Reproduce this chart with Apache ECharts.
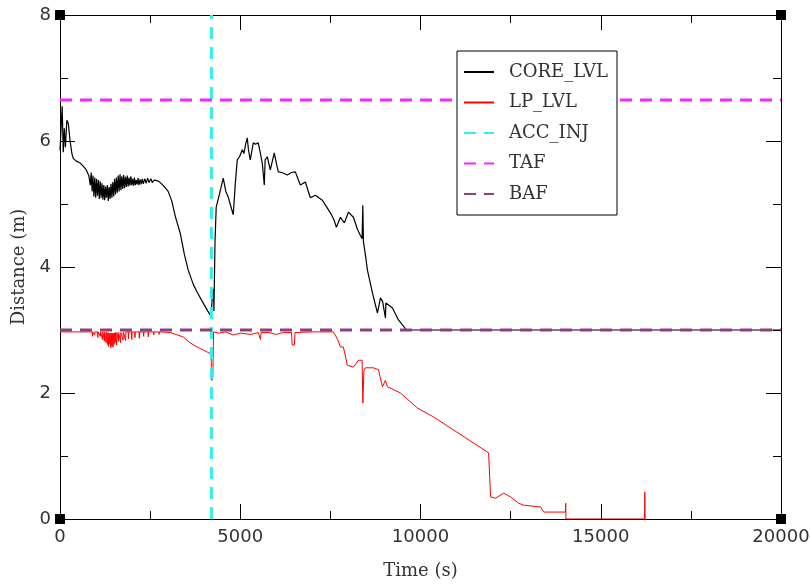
<!DOCTYPE html>
<html>
<head>
<meta charset="utf-8">
<script src="https://cdn.jsdelivr.net/npm/echarts@6/dist/echarts.min.js"></script>
<style>html,body{margin:0;padding:0;background:#fff}#c{width:810px;height:585px}</style>
</head>
<body>
<div id="c"></div>
<script>
// ---- data ----
var xTicks = [0, 5000, 10000, 15000, 20000];
var yTicks = [0, 2, 4, 6, 8];
var seriesNames = ['CORE_LVL', 'LP_LVL', 'ACC_INJ', 'TAF', 'BAF'];

var coreLvl = [
  [0, 5.85], [60, 6.55], [90, 5.82], [120, 6.2], [150, 5.9], [190, 6.33], [230, 6.28], [280, 6.0],
  [330, 5.8], [370, 5.72], [450, 5.68], [560, 5.65], [640, 5.6], [720, 5.55], [800, 5.45],
  [840, 5.3], [865, 5.5], [890, 5.2], [915, 5.45], [940, 5.12], [965, 5.42], [990, 5.1], [1015, 5.4],
  [1040, 5.13], [1065, 5.38], [1090, 5.08], [1115, 5.36], [1140, 5.1], [1165, 5.33], [1190, 5.07],
  [1215, 5.3], [1240, 5.06], [1265, 5.28], [1290, 5.1], [1315, 5.3], [1340, 5.05], [1365, 5.27],
  [1390, 5.08], [1415, 5.32], [1440, 5.1], [1465, 5.35], [1490, 5.12], [1515, 5.4], [1540, 5.15],
  [1565, 5.42], [1590, 5.18], [1615, 5.45], [1640, 5.2], [1665, 5.47], [1690, 5.22], [1715, 5.44],
  [1740, 5.24], [1765, 5.46], [1790, 5.25], [1815, 5.43], [1840, 5.27], [1865, 5.45], [1890, 5.28],
  [1915, 5.42], [1940, 5.29], [1965, 5.44], [1990, 5.3], [2015, 5.4], [2040, 5.29], [2065, 5.42],
  [2090, 5.3], [2115, 5.38], [2140, 5.31], [2165, 5.41], [2190, 5.3], [2220, 5.39], [2250, 5.31],
  [2280, 5.4], [2310, 5.32], [2350, 5.4], [2390, 5.33], [2430, 5.41], [2470, 5.34], [2520, 5.4],
  [2560, 5.34], [2610, 5.38], [2660, 5.35], [2700, 5.37], [2760, 5.35], [2820, 5.32],
  [2900, 5.27], [3000, 5.2], [3100, 5.05],
  [3200, 4.8], [3333, 4.54], [3450, 4.2], [3556, 3.95], [3700, 3.72], [3806, 3.6], [3950, 3.45],
  [4100, 3.3], [4167, 3.24], [4200, 3.28], [4230, 3.6], [4260, 3.65], [4270, 3.3], [4290, 3.3],
  [4300, 4.4], [4333, 4.95], [4420, 5.15], [4528, 5.41], [4600, 5.2], [4667, 5.11], [4720, 5.0],
  [4806, 4.83], [4860, 5.3], [4917, 5.7], [4980, 5.75], [5056, 5.86], [5100, 5.8], [5150, 5.95],
  [5194, 6.05], [5230, 5.85], [5278, 5.7], [5361, 5.97], [5420, 5.95], [5500, 5.97], [5560, 5.8],
  [5611, 5.65], [5640, 5.62], [5667, 5.3], [5690, 5.7], [5750, 5.75], [5833, 5.54], [5944, 5.81],
  [6000, 5.65], [6056, 5.51], [6150, 5.5], [6306, 5.46], [6420, 5.5], [6528, 5.51], [6600, 5.4],
  [6667, 5.3], [6806, 5.35], [6944, 5.1], [7083, 5.14], [7278, 5.06], [7400, 4.95], [7500, 4.86],
  [7600, 4.75], [7667, 4.63], [7778, 4.79], [7889, 4.7], [8000, 4.87], [8139, 4.79], [8250, 4.6],
  [8333, 4.5], [8380, 4.45], [8400, 4.98], [8417, 4.4], [8470, 4.2], [8528, 3.95], [8667, 3.59],
  [8806, 3.27], [8889, 3.51], [8950, 3.45], [9000, 3.48], [9028, 3.19], [9040, 3.43], [9222, 3.35],
  [9389, 3.16], [9611, 3.0], [20000, 3.0]
];

var lpLvl = [
  [0, 2.97], [380, 2.97], [420, 2.94], [460, 2.97],
  [892, 2.97], [900, 2.9], [908, 2.97], [952, 2.97], [960, 2.92], [968, 2.97],
  [1042, 2.97], [1050, 2.88], [1058, 2.97], [1112, 2.97], [1120, 2.9], [1128, 2.97],
  [1172, 2.97], [1180, 2.85], [1188, 2.97], [1222, 2.97], [1230, 2.82], [1238, 2.97],
  [1272, 2.97], [1280, 2.8], [1288, 2.97], [1312, 2.96], [1320, 2.77], [1328, 2.96],
  [1342, 2.96], [1350, 2.74], [1358, 2.95], [1372, 2.95], [1380, 2.78], [1388, 2.95],
  [1402, 2.95], [1410, 2.72], [1418, 2.95], [1432, 2.95], [1440, 2.75], [1448, 2.95],
  [1462, 2.95], [1470, 2.73], [1478, 2.95], [1492, 2.95], [1500, 2.77], [1508, 2.95],
  [1522, 2.96], [1530, 2.8], [1538, 2.96], [1562, 2.96], [1570, 2.76], [1578, 2.96],
  [1612, 2.96], [1620, 2.82], [1628, 2.96], [1672, 2.96], [1680, 2.8], [1688, 2.96],
  [1742, 2.97], [1750, 2.84], [1758, 2.97], [1812, 2.97], [1820, 2.83], [1828, 2.97],
  [1892, 2.97], [1900, 2.86], [1908, 2.97], [1982, 2.97], [1990, 2.85], [1998, 2.97],
  [2072, 2.97], [2080, 2.88], [2088, 2.97], [2192, 2.97], [2200, 2.87], [2208, 2.97],
  [2312, 2.97], [2320, 2.9], [2328, 2.97], [2442, 2.97], [2450, 2.89], [2458, 2.97],
  [2592, 2.97], [2600, 2.92], [2608, 2.97], [2742, 2.97], [2750, 2.93], [2758, 2.97],
  [3056, 2.96], [3417, 2.89], [3600, 2.8],
  [3806, 2.73], [4083, 2.65], [4190, 2.62], [4210, 2.2], [4240, 2.25], [4260, 2.97], [4400, 2.95],
  [4600, 2.97], [4800, 2.92], [5000, 2.95], [5300, 2.93], [5500, 2.96], [5560, 2.85], [5580, 2.96],
  [5800, 2.96], [6000, 2.93], [6200, 2.96], [6420, 2.96], [6440, 2.76], [6500, 2.76], [6520, 2.96],
  [7000, 2.97], [7583, 2.97], [7700, 2.85], [7778, 2.73], [7861, 2.73], [7972, 2.44], [8139, 2.41],
  [8278, 2.52], [8380, 2.52], [8400, 1.84], [8430, 2.35], [8472, 2.4], [8694, 2.4], [8833, 2.37],
  [8944, 2.1], [9028, 2.2], [9083, 2.1], [9444, 2.0], [9917, 1.76], [10361, 1.62], [11889, 1.05],
  [11944, 0.35], [12083, 0.33], [12306, 0.41], [12500, 0.35], [12722, 0.25], [12861, 0.22],
  [13333, 0.19], [13417, 0.11], [14020, 0.11], [14028, 0.25], [14035, 0], [16215, 0], [16222, 0.43],
  [16230, 0]
];

var accInjTime = 4200;
var tafLevel = 6.65;
var bafLevel = 3.0;
var xRange = [0, 20000];
var yRange = [0, 8];

// ---- chart ----
var chart = echarts.init(document.getElementById('c'), null, {renderer: 'canvas'});
var numFont = 'DejaVu Sans';
var txtFont = 'DejaVu Serif';

function axisCommon(showLabel) {
  return {
    axisLine: {show: true, onZero: false, lineStyle: {color: '#000', width: 1}},
    axisTick: {show: true, inside: true, length: 15, lineStyle: {color: '#000', width: 1}},
    minorTick: {show: true, splitNumber: 2, length: 8, lineStyle: {color: '#000', width: 1}},
    splitLine: {show: false},
    axisLabel: {show: showLabel, fontFamily: numFont, fontSize: 18, color: '#333', margin: 9,
      formatter: function (v) { return String(v); }}
  };
}

var xBottom = Object.assign({type: 'value', position: 'bottom', min: xRange[0], max: xRange[1], interval: 5000,
  name: 'Time (s)', nameLocation: 'middle', nameGap: 43,
  nameTextStyle: {fontFamily: txtFont, fontSize: 18, color: '#333'}}, axisCommon(true));
var xTop = Object.assign({type: 'value', position: 'top', min: xRange[0], max: xRange[1], interval: 5000}, axisCommon(false));
var yLeft = Object.assign({type: 'value', position: 'left', min: yRange[0], max: yRange[1], interval: 2,
  name: 'Distance (m)', nameLocation: 'middle', nameGap: 22,
  nameTextStyle: {fontFamily: txtFont, fontSize: 18, color: '#333'}}, axisCommon(true));
var yRight = Object.assign({type: 'value', position: 'right', min: yRange[0], max: yRange[1], interval: 2}, axisCommon(false));

var corners = [[xRange[0], yRange[0]], [xRange[1], yRange[0]], [xRange[0], yRange[1]], [xRange[1], yRange[1]]];

chart.setOption({
  animation: false,
  backgroundColor: '#fff',
  grid: {left: 60, right: 29, top: 15, bottom: 66, outerBoundsMode: 'none', containLabel: false},
  xAxis: [xBottom, xTop],
  yAxis: [yLeft, yRight],
  legend: {
    data: seriesNames,
    orient: 'vertical',
    left: 457, top: 51,
    padding: [12, 9, 12, 6],
    itemWidth: 30, itemHeight: 18, itemGap: 12.5,
    backgroundColor: '#fff',
    borderColor: '#000', borderWidth: 1, borderRadius: 0,
    itemStyle: {opacity: 0},
    textStyle: {fontFamily: txtFont, fontSize: 18, color: '#333', padding: [0, 0, 0, 10]}
  },
  series: [
    {name: seriesNames[0], type: 'line', data: coreLvl, symbol: 'none', lineStyle: {color: '#000', width: 1.2}, itemStyle: {color: '#000'}, z: 2},
    {name: seriesNames[1], type: 'line', data: lpLvl, symbol: 'none', lineStyle: {color: '#ff0000', width: 1}, itemStyle: {color: '#ff0000'}, z: 2},
    {name: seriesNames[2], type: 'line', data: [[accInjTime, yRange[0]], [accInjTime, yRange[1]]], symbol: 'none',
      lineStyle: {color: '#33eeee', width: 3, type: [12, 8]}, itemStyle: {color: '#33eeee'}, z: 3},
    {name: seriesNames[3], type: 'line', data: [[xRange[0], tafLevel], [xRange[1], tafLevel]], symbol: 'none',
      lineStyle: {color: '#ff22ff', width: 3, type: [12, 8]}, itemStyle: {color: '#ff22ff'}, z: 3},
    {name: seriesNames[4], type: 'line', data: [[xRange[0], bafLevel], [xRange[1], bafLevel]], symbol: 'none',
      lineStyle: {color: '#8e3f80', width: 3, type: [12, 8]}, itemStyle: {color: '#8e3f80'}, z: 3},
    {name: 'corners', type: 'scatter', data: corners, symbol: 'rect', symbolSize: 10, clip: false,
      itemStyle: {color: '#000', opacity: 1}, z: 10, silent: true}
  ]
});
</script>
</body>
</html>
